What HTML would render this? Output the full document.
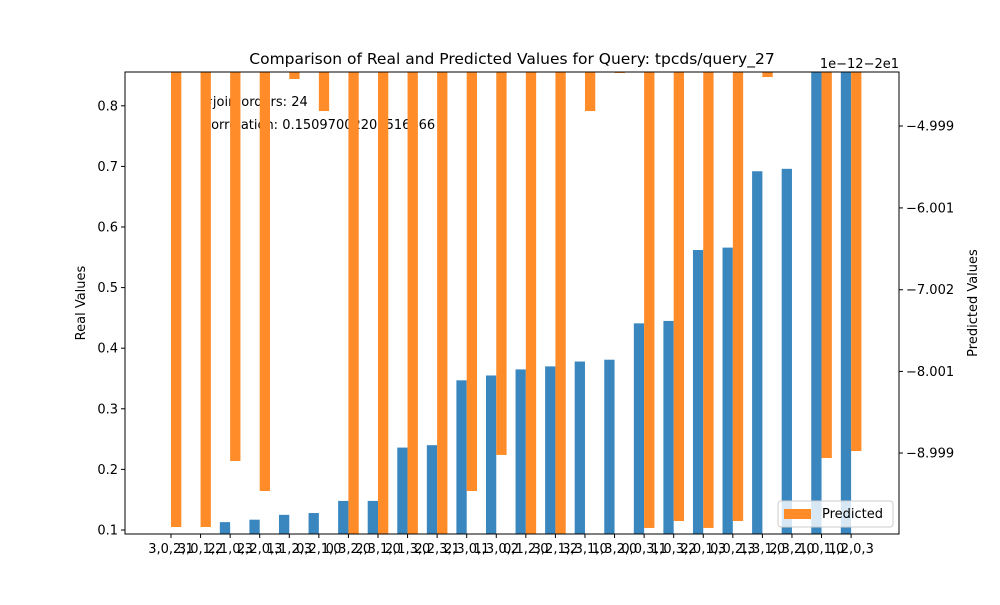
<!DOCTYPE html>
<html><head><meta charset="utf-8"><style>
body{margin:0;background:#fff}
svg text{font-family:"DejaVu Sans","Liberation Sans",sans-serif;fill:#000}
</style></head><body>
<svg id="chart" width="1000" height="600" viewBox="0 0 1000 600" xmlns="http://www.w3.org/2000/svg">
<rect width="1000" height="600" fill="#fff"/>
<g id="g"></g>
</svg>
<script>
const categories=["3,0,2,1","3,0,1,2","2,1,0,3","2,2,0,3","1,1,2,3","0,2,1,0","0,3,2,0","2,3,1,0","2,1,3,0","2,2,3,1","2,3,0,1","1,3,0,2","0,1,2,0","3,2,1,2","3,3,1,0","1,3,2,0","0,0,3,1","1,0,3,2","2,0,1,3","0,0,2,3","1,3,1,0","2,3,2,0","1,0,1,0","1,2,0,3"];
const realValues=[0.09,0.093,0.113,0.117,0.125,0.128,0.148,0.148,0.236,0.240,0.347,0.355,0.365,0.370,0.378,0.381,0.441,0.445,0.562,0.566,0.692,0.696,0.87,0.87];
const predictedValues=[-9.904,-9.904,-9.097,-9.464,-4.424,-4.816,-10.1,-10.1,-10.1,-10.1,-9.464,-9.023,-10.1,-10.1,-4.816,-4.351,-9.916,-9.831,-9.916,-9.831,-4.40,-4.34,-9.06,-8.975];
const leftTicks=[0.1,0.2,0.3,0.4,0.5,0.6,0.7,0.8];
const rightTicks=[-4.999,-6.001,-7.002,-8.001,-8.999];

const NS="http://www.w3.org/2000/svg";
const g=document.getElementById('g');
const L=125,R=899,T=72,B=534;
const yL=v=>530-(v-0.1)*606;
const yR=v=>126-(v+4.999)*81.75;
const xC=i=>171+i*29.57;
const bw=10.3;
function el(t,a,txt){const e=document.createElementNS(NS,t);for(const k in a)e.setAttribute(k,a[k]);if(txt!==undefined)e.textContent=txt;g.appendChild(e);return e;}

const clip=el('clipPath',{id:'pc'});g.removeChild(clip);
const cr=document.createElementNS(NS,'rect');cr.setAttribute('x',L);cr.setAttribute('y',T);cr.setAttribute('width',R-L);cr.setAttribute('height',B-T);clip.appendChild(cr);
const defs=document.createElementNS(NS,'defs');defs.appendChild(clip);document.getElementById('chart').insertBefore(defs,g);

realValues.forEach((v,i)=>{
  const y=Math.max(T,yL(v));
  const r=el('rect',{x:xC(i)-bw,y:y,width:bw,height:Math.max(0,B-y),fill:'#3a87c0','clip-path':'url(#pc)'});
  
  
});
let t1=el('text',{x:202,y:106,'font-size':13},'#join-orders: 24');

let t2=el('text',{x:202,y:129,'font-size':13},'Correlation: 0.15097002201516466');

predictedValues.forEach((v,i)=>{
  const y=Math.min(B,yR(v));
  const r=el('rect',{x:xC(i),y:T,width:bw,height:Math.max(0,y-T),fill:'#ff8c28','clip-path':'url(#pc)'});
  
  
});
el('rect',{x:L,y:T,width:R-L,height:B-T,fill:'none',stroke:'#000','stroke-width':1});
leftTicks.forEach(v=>{const y=yL(v);el('line',{x1:L-4,x2:L,y1:y,y2:y,stroke:'#000'});
  const t=el('text',{x:L-7,y:y+4.5,'font-size':13,'text-anchor':'end'},v.toFixed(1));
  });
rightTicks.forEach(v=>{const y=yR(v);el('line',{x1:R,x2:R+4,y1:y,y2:y,stroke:'#000'});
  const t=el('text',{x:R+7,y:y+4.5,'font-size':13},'\u2212'+Math.abs(v).toFixed(3));
  });
categories.forEach((c,i)=>{const x=xC(i);el('line',{x1:x,x2:x,y1:B,y2:B+4,stroke:'#000'});
  const t=el('text',{x:x,y:B+19,'font-size':13,'text-anchor':'middle'},c);
  });
let tt=el('text',{x:512,y:64,'font-size':15.5,'text-anchor':'middle'},'Comparison of Real and Predicted Values for Query: tpcds/query_27');

let off=el('text',{x:899,y:68,'font-size':13,'text-anchor':'end'},'1e\u221212\u22122e1');

let yl=el('text',{x:85,y:303,'font-size':13,'text-anchor':'middle',transform:'rotate(-90 85 303)'},'Real Values');

let yr=el('text',{x:977,y:303,'font-size':13,'text-anchor':'middle',transform:'rotate(-90 977 303)'},'Predicted Values');

let lg=el('rect',{x:778,y:501,width:115,height:26,rx:3,fill:'#fff','fill-opacity':0.8,stroke:'#ccc'});

el('rect',{x:784,y:509,width:27,height:10,fill:'#ff8c28'});
let lt=el('text',{x:822,y:518,'font-size':13},'Predicted');

</script>
</body></html>
